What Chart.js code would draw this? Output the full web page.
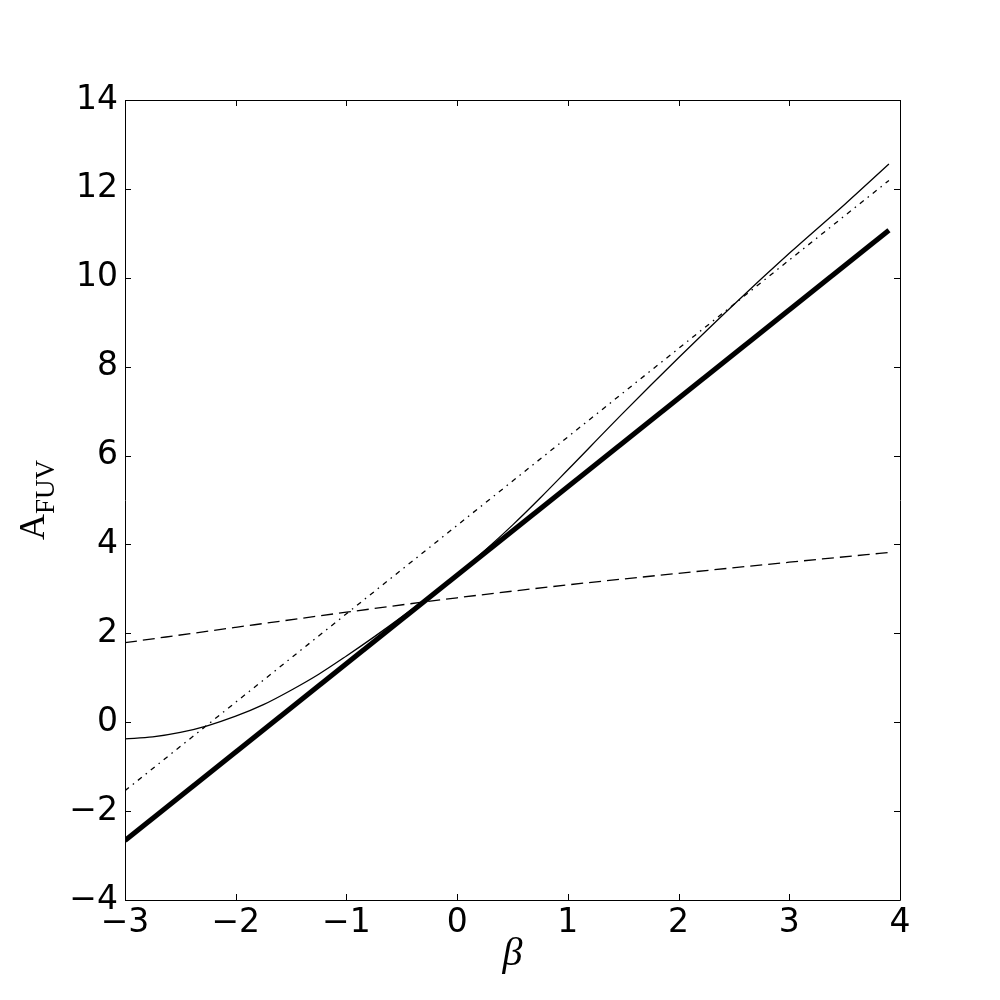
<!DOCTYPE html>
<html>
<head>
<meta charset="utf-8">
<script src="https://cdn.jsdelivr.net/npm/chart.js@4/dist/chart.umd.min.js"></script>
<style>
html,body{margin:0;padding:0;background:#fff;}
#wrap{width:1000px;height:1000px;}
</style>
</head>
<body>
<div id="wrap"><canvas id="c" width="1000" height="1000"></canvas></div>
<script>
// ---- data ----
const lineBeta = [-3, 3.9];
const thickA = [-2.66, 11.07];
const dashDotA = [-1.54, 12.19];
const dashedBeta = [-3, -2, -1, 0, 1, 2, 3, 3.9];
const dashedA = [1.79, 2.135, 2.475, 2.80, 3.09, 3.35, 3.60, 3.82];
const curveBeta = [-3, -2.75, -2.5, -2.25, -2, -1.75, -1.5, -1.25, -1, -0.75, -0.5, -0.25, 0, 0.25, 0.5, 0.75, 1, 1.5, 2, 2.5, 3, 3.5, 3.9];
const curveA = [-0.375, -0.33, -0.23, -0.075, 0.135, 0.395, 0.72, 1.08, 1.49, 1.92, 2.37, 2.84, 3.33, 3.865, 4.435, 5.045, 5.68, 6.96, 8.20, 9.40, 10.55, 11.65, 12.56];
const xTicks = [-3, -2, -1, 0, 1, 2, 3, 4];
const yTicks = [-4, -2, 0, 2, 4, 6, 8, 10, 12, 14];
const xLabel = 'β';
const yLabelMain = 'A';
const yLabelSub = 'FUV';

function pts(xs, ys){ return xs.map((x,i)=>({x:x, y:ys[i]})); }
const fmt = v => (v < 0 ? '\u2212' + Math.abs(v) : String(v));

const frameTicks = {
  id: 'frameTicks',
  afterDraw(chart){
    const ctx = chart.ctx, a = chart.chartArea;
    const xs = chart.scales.x, ys = chart.scales.y;
    ctx.save();
    ctx.strokeStyle = '#000';
    ctx.lineWidth = 1;
    ctx.beginPath();
    ctx.rect(Math.round(a.left)+0.5, Math.round(a.top)+0.5, Math.round(a.right-a.left), Math.round(a.bottom-a.top));
    ctx.stroke();
    const L = 6;
    ctx.beginPath();
    xTicks.forEach(v=>{
      const p = Math.round(xs.getPixelForValue(v))+0.5;
      ctx.moveTo(p, a.bottom); ctx.lineTo(p, a.bottom-L);
      ctx.moveTo(p, a.top); ctx.lineTo(p, a.top+L);
    });
    yTicks.forEach(v=>{
      const p = Math.round(ys.getPixelForValue(v))+0.5;
      ctx.moveTo(a.left, p); ctx.lineTo(a.left+L, p);
      ctx.moveTo(a.right, p); ctx.lineTo(a.right-L, p);
    });
    ctx.stroke();
    // axis titles
    ctx.fillStyle = '#000';
    ctx.font = 'italic 40px "Liberation Serif", "DejaVu Serif", serif';
    ctx.textAlign = 'center';
    ctx.textBaseline = 'alphabetic';
    ctx.fillText(xLabel, (a.left+a.right)/2, 965);
    ctx.translate(46, 500);
    ctx.rotate(-Math.PI/2);
    ctx.font = '36px "Liberation Serif", "DejaVu Serif", serif';
    const wA = ctx.measureText(yLabelMain).width;
    ctx.font = '27px "Liberation Serif", "DejaVu Serif", serif';
    const wS = ctx.measureText(yLabelSub).width;
    const tot = wA + wS;
    ctx.textAlign = 'left';
    ctx.font = '36px "Liberation Serif", "DejaVu Serif", serif';
    ctx.fillText(yLabelMain, -tot/2, -2);
    ctx.font = '27px "Liberation Serif", "DejaVu Serif", serif';
    ctx.fillText(yLabelSub, -tot/2 + wA, 8);
    ctx.restore();
  }
};

new Chart(document.getElementById('c'), {
  type: 'scatter',
  data: {
    datasets: [
      { data: pts(dashedBeta, dashedA), showLine: true, borderColor: '#000', borderWidth: 1.3, borderDash: [12, 6], pointRadius: 0, cubicInterpolationMode: 'monotone' },
      { data: pts(lineBeta, dashDotA), showLine: true, borderColor: '#000', borderWidth: 1.3, borderDash: [5, 5, 1.5, 5], pointRadius: 0 },
      { data: pts(curveBeta, curveA), showLine: true, borderColor: '#000', borderWidth: 1.3, pointRadius: 0, cubicInterpolationMode: 'monotone' },
      { data: pts(lineBeta, thickA), showLine: true, borderColor: '#000', borderWidth: 5, pointRadius: 0, borderCapStyle: 'butt' }
    ]
  },
  options: {
    responsive: false,
    animation: false,
    events: [],
    layout: { padding: { top: 100, right: 100, left: 0, bottom: 0 } },
    plugins: { legend: { display: false }, tooltip: { enabled: false } },
    scales: {
      x: {
        type: 'linear', min: -3, max: 4,
        afterBuildTicks: s => { s.ticks = xTicks.map(v=>({value:v})); },
        afterFit: s => { s.height = 100; },
        grid: { display: false, drawTicks: false },
        border: { display: false },
        ticks: { color: '#000', padding: 4, font: { family: '"DejaVu Sans"', size: 33 }, callback: v => fmt(v), maxRotation: 0, autoSkip: false }
      },
      y: {
        type: 'linear', min: -4, max: 14,
        afterBuildTicks: s => { s.ticks = yTicks.map(v=>({value:v})); },
        afterFit: s => { s.width = 125; },
        grid: { display: false, drawTicks: false },
        border: { display: false },
        ticks: { color: '#000', padding: 7, font: { family: '"DejaVu Sans"', size: 33 }, callback: v => fmt(v), autoSkip: false }
      }
    }
  },
  plugins: [frameTicks]
});
</script>
</body>
</html>
